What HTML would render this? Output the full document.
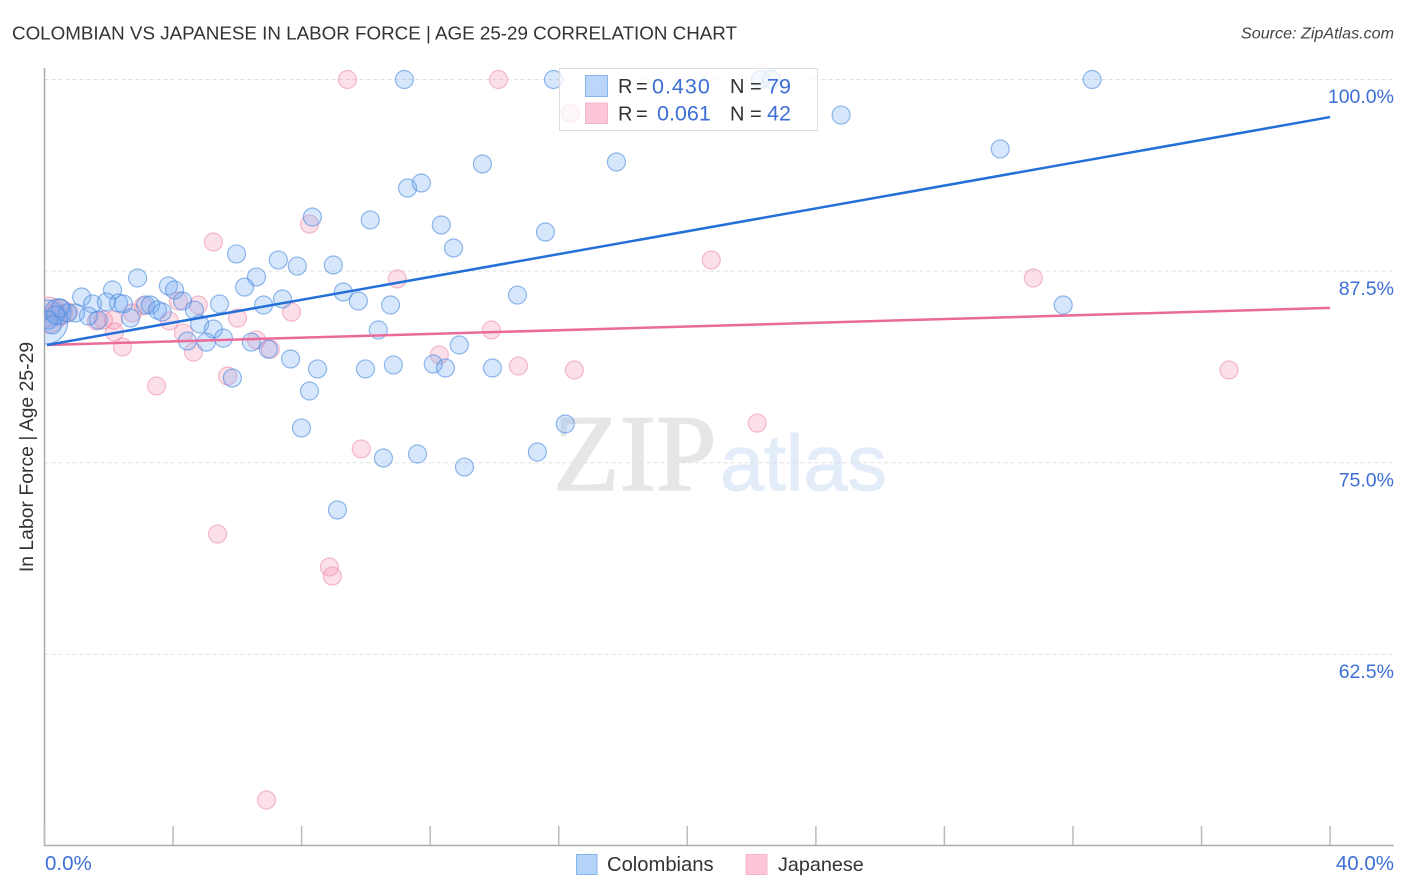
<!DOCTYPE html>
<html lang="en">
<head>
<meta charset="utf-8">
<title>Colombian vs Japanese in Labor Force Correlation Chart</title>
<style>
html,body{margin:0;padding:0;background:#fff;}
svg{display:block;font-family:"Liberation Sans",sans-serif;}
</style>
</head>
<body>
<svg id="chart" xmlns="http://www.w3.org/2000/svg" width="1406" height="892" viewBox="0 0 1406 892">
  <defs>
    <clipPath id="plot-clip"><rect x="44.5" y="60" width="1360" height="786"/></clipPath>
  </defs>
  <rect x="0" y="0" width="1406" height="892" fill="#fff"/>
  <text x="12" y="39.5" font-size="18.8" fill="#333">COLOMBIAN VS JAPANESE IN LABOR FORCE | AGE 25-29 CORRELATION CHART</text>
  <text x="1394" y="38.5" font-size="16.1" font-style="italic" text-anchor="end" fill="#444">Source: ZipAtlas.com</text>
  <g>
    <text x="553" y="490" font-family="'Liberation Serif',serif" font-size="109" fill="#e6e6e6" stroke="#e6e6e6" stroke-width="1.5">ZIP</text>
    <text x="720" y="490" font-size="79" fill="#e3ecf9" stroke="#e3ecf9" stroke-width="1">atlas</text>
  </g>
  <g id="grid"></g>
  <g id="axes"></g>
  <g id="series-japanese" clip-path="url(#plot-clip)"></g>
  <g id="series-colombians" clip-path="url(#plot-clip)"></g>
  <g id="trends"></g>
  <text transform="translate(33,457) rotate(-90)" font-size="19.4" text-anchor="middle" fill="#333">In Labor Force | Age 25-29</text>
  <g>
    <rect x="559.5" y="68.5" width="258" height="62" fill="#fff" fill-opacity="0.75" stroke="#ddd" stroke-width="1"/>
    <rect x="585.5" y="75.5" width="22" height="21" fill="#b5d2f8" fill-opacity="0.9" stroke="#86b4ec"/>
    <rect x="585.5" y="103" width="22" height="20.5" fill="#fcc6d8" stroke="#f5b5cb"/>
    <g font-size="20" fill="#333">
      <text x="618" y="93" word-spacing="-2">R =</text>
      <text x="730" y="93">N =</text>
      <text x="618" y="120.5" word-spacing="-2">R =</text>
      <text x="730" y="120.5">N =</text>
    </g>
    <g font-size="21.5" fill="#3d6fd6">
      <text x="652" y="93.5" letter-spacing="1">0.430</text>
      <text x="767" y="93.5">79</text>
      <text x="657" y="120.5">0.061</text>
      <text x="767" y="120.5">42</text>
    </g>
  </g>
  <g>
    <rect x="576.5" y="854.5" width="20.5" height="20" fill="#b5d2f8" stroke="#86b4ec"/>
    <text x="607" y="871" font-size="20.2" fill="#333">Colombians</text>
    <rect x="746" y="854.5" width="21" height="20" fill="#fcc6d8" stroke="#f5b5cb"/>
    <text x="778" y="871" font-size="19.8" fill="#333">Japanese</text>
  </g>
</svg>
<script>
// Colombians: [x %, y %]
const colombianX = [11.18,15.82,17.19,22.26,22.60,32.58,24.77,29.72,13.61,17.78,11.28,11.71,10.12,8.32,12.33,12.71,15.57,5.96,7.26,7.85,8.97,6.58,2.88,3.84,4.03,2.10,6.21,1.14,1.48,1.91,2.29,2.44,3.13,3.28,4.28,5.43,6.80,7.39,9.28,9.75,10.75,14.70,31.68,4.65,3.50,3.65,2.66,1.66,1.35,0.95,0.70,0.48,0.33,0.11,0.23,4.81,5.24,5.55,5.02,4.43,6.42,6.95,7.64,10.37,12.89,12.08,12.46,10.84,9.97,8.48,13.92,5.83,8.23,7.98,16.19,10.53,11.59,15.32,13.05,9.10];
const colombianY = [100,100,99.71,100,100,100,97.68,95.47,94.49,94.62,92.92,93.25,90.84,91.03,90.51,89.01,90.05,88.62,88.23,87.83,87.90,87.12,87.05,86.53,86.27,86.27,86.46,85.81,85.36,85.49,85.42,85.36,85.29,85.29,85.55,85.36,85.29,85.68,86.14,85.55,85.29,85.94,85.29,84.96,84.96,84.83,84.44,84.31,84.57,84.77,84.77,85.09,84.64,84.31,83.99,84.05,83.72,83.13,82.87,82.94,82.87,82.41,81.77,83.66,82.68,81.44,81.18,81.38,81.12,81.12,81.18,80.53,79.68,77.27,77.53,75.31,75.57,75.70,74.72,71.92];
const colombianLargeX = [0.4];
const colombianLargeY = [84.85];
const colombianHugeX = [0.02];
const colombianHugeY = [84.18];
// Japanese: [x %, y %]
const japaneseX = [9.41,14.11,16.35,5.24,8.23,20.73,10.96,30.75,4.77,4.15,7.67,3.06,5.99,3.87,2.72,2.13,1.82,1.60,0.73,0.33,0.11,2.16,2.41,4.31,4.62,6.58,7.01,13.89,12.27,14.73,16.47,36.84,3.47,5.68,22.16,9.84,5.37,8.85,8.94,6.89];
const japaneseY = [100,100,97.81,89.40,90.57,88.23,86.99,87.05,85.29,85.55,84.83,85.23,84.44,84.25,84.77,84.31,84.31,84.25,84.83,84.83,84.44,83.53,82.55,83.46,82.22,83.01,82.41,83.66,82.03,81.31,81.05,81.05,80.01,80.66,77.59,75.90,70.35,68.20,67.61,53.0];
const japaneseLargeX = [0.45];
const japaneseLargeY = [84.8];
const japaneseHugeX = [0.1];
const japaneseHugeY = [84.63];
// Trend line end points
const trendX = [0.08,40];
const colombianTrendY = [82.68,97.55];
const japaneseTrendY = [82.68,85.1];
// Axis ticks
const yTicks = [100,87.5,75,62.5];
const yTickLabels = ["100.0%","87.5%","75.0%","62.5%"];
const xTicks = [0,4,8,12,16,20,24,28,32,36,40];
const xEndLabels = ["0.0%","40.0%"];

const NS = 'http://www.w3.org/2000/svg';
const xScale = v => 44.5 + v * 32.14;
const pointX = v => 45 + v * 32.14;
const yScale = v => 79.5 + (100 - v) * 15.33;
function make(parent, tag, attrs) {
  const el = document.createElementNS(NS, tag);
  for (const k in attrs) el.setAttribute(k, attrs[k]);
  document.getElementById(parent).appendChild(el);
  return el;
}

yTicks.forEach((t, i) => {
  const g = make('grid', 'line', {x1: 44.5, x2: 1394, y1: yScale(t), y2: yScale(t), stroke: '#e0e0e0', 'stroke-width': 1, 'stroke-dasharray': '4 3'});
  
  
  const l = make('axes', 'text', {x: 1394, y: yScale(t) + 23.7, 'font-size': 19.5, 'text-anchor': 'end', fill: '#3d6fd6'});
  l.textContent = yTickLabels[i];
  
  
});

const yAxis = make('axes', 'line', {x1: 44.5, x2: 44.5, y1: 68, y2: 845.5, stroke: '#aaa', 'stroke-width': 1.5});


const xAxis = make('axes', 'line', {x1: 44, x2: 1394, y1: 845.5, y2: 845.5, stroke: '#aaa', 'stroke-width': 1.5});


xTicks.forEach(t => {
  const k = make('axes', 'line', {x1: xScale(t), x2: xScale(t), y1: 826, y2: 845, stroke: '#bbb', 'stroke-width': 1.5});
  
  
});
const x0 = make('axes', 'text', {x: 45, y: 870, 'font-size': 20.5, fill: '#3d6fd6'});
x0.textContent = xEndLabels[0];


const x1 = make('axes', 'text', {x: 1394, y: 870, 'font-size': 20.5, 'text-anchor': 'end', fill: '#3d6fd6'});
x1.textContent = xEndLabels[1];



function drawPoints(parent, xs, ys, r, fill, stroke, name) {
  xs.forEach((x, i) => {
    const c = make(parent, 'circle', {cx: pointX(x), cy: yScale(ys[i]), r: r, fill: fill, 'fill-opacity': 0.28, stroke: stroke, 'stroke-opacity': 0.6, 'stroke-width': 1.2});
    
    
  });
}
drawPoints('series-japanese', japaneseHugeX, japaneseHugeY, 18, '#f48fb1', '#ee8fae', 'japanese-point-huge');
drawPoints('series-japanese', japaneseLargeX, japaneseLargeY, 13, '#f48fb1', '#ee8fae', 'japanese-point-large');
drawPoints('series-japanese', japaneseX, japaneseY, 9, '#f48fb1', '#ee8fae', 'japanese-point');
drawPoints('series-colombians', colombianHugeX, colombianHugeY, 22, '#6ea8ef', '#4a8be0', 'colombian-point-huge');
drawPoints('series-colombians', colombianLargeX, colombianLargeY, 13, '#6ea8ef', '#4a8be0', 'colombian-point-large');
drawPoints('series-colombians', colombianX, colombianY, 9, '#6ea8ef', '#4a8be0', 'colombian-point');

const tp = make('trends', 'line', {x1: xScale(trendX[0]), y1: yScale(japaneseTrendY[0]), x2: xScale(trendX[1]), y2: yScale(japaneseTrendY[1]), stroke: '#ea6a9a', 'stroke-width': 2.5});


const tb = make('trends', 'line', {x1: xScale(trendX[0]), y1: yScale(colombianTrendY[0]), x2: xScale(trendX[1]), y2: yScale(colombianTrendY[1]), stroke: '#2470d8', 'stroke-width': 2.5});


</script>
</body>
</html>
